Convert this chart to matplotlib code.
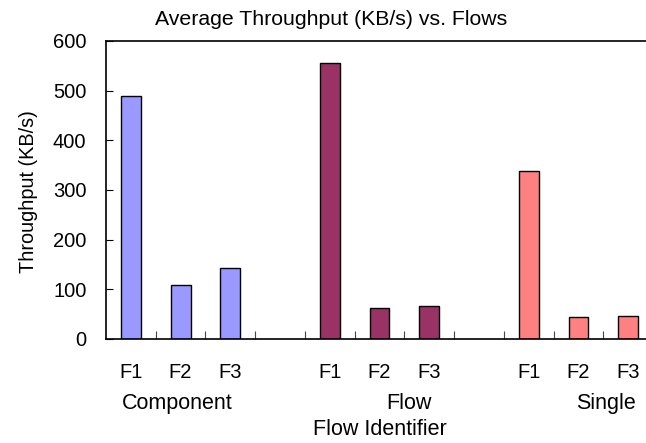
import numpy as np
import matplotlib
matplotlib.use("Agg")
import matplotlib.pyplot as plt
import matplotlib.transforms as mtransforms

plt.rcParams['font.family'] = ['Liberation Sans', 'DejaVu Sans']

groups = ["Component", "Flow", "Single"]
flows = ["F1", "F2", "F3"]
component = [489, 109, 143]
flow = [555, 63, 66]
single = [339, 45, 47]
colors = ["#9999FF", "#993366", "#FF8080"]
yticks = [0, 100, 200, 300, 400, 500, 600]

fig = plt.figure(figsize=(6.46, 4.43), dpi=100)
ax = fig.add_axes([0.164, 0.2348, 0.847, 0.6727])

for g, vals in enumerate([component, flow, single]):
    x = np.arange(len(vals)) + g * 4
    ax.bar(x, vals, width=0.4, color=colors[g], edgecolor="black", linewidth=1.0)

ax.set_xlim(-0.5, 10.5)
ax.set_ylim(0, 600)
ax.set_yticks(yticks)
ax.tick_params(axis="y", direction="in", length=5, labelsize=14.5, pad=14, width=0.8)
ax.set_xticks(np.arange(0.5, 10, 1.0))
ax.set_xticklabels([])
ax.tick_params(axis="x", direction="in", length=6, width=0.8, color="#444444")

ax.spines["right"].set_visible(False)
for s in ["left", "bottom", "top"]:
    ax.spines[s].set_linewidth(1.2)

# category labels under the axis
trans = mtransforms.blended_transform_factory(ax.transData, ax.transAxes)
for g in range(3):
    for i, f in enumerate(flows):
        ax.text(g * 4 + i, -0.114, f, transform=trans, ha="center", va="center", fontsize=14.5)
group_x = [0.93, 5.6, 9.55]
for gx, name in zip(group_x, groups):
    ax.text(gx, -0.215, name, transform=trans, ha="center", va="center", fontsize=15.5)

ax.text(5.0, -0.305, "Flow Identifier", transform=trans, ha="center", va="center", fontsize=15.5)
fig.text(29 / 646, 1 - 192 / 443, "Throughput (KB/s)", rotation=90, ha="center", va="center", fontsize=14.3)
fig.text(0.512, 0.955, "Average Throughput (KB/s) vs. Flows", ha="center", va="center", fontsize=15.3)

fig.savefig("out.png", dpi=100)
